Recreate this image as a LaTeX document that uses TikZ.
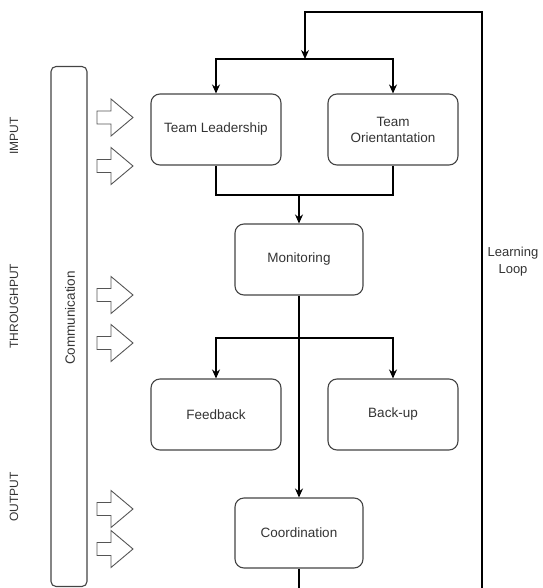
\documentclass[tikz,border=0pt]{standalone}
\usepackage{fontspec}
\setmainfont{Liberation Sans}
\usetikzlibrary{arrows.meta}
\definecolor{txt}{HTML}{333333}
\definecolor{bord}{HTML}{444444}
\definecolor{agrey}{HTML}{555555}
\tikzset{
  stepbox/.style={draw=bord, line width=1.1pt, rounded corners=9pt, minimum width=130pt, minimum height=71pt, inner sep=2pt, align=center, text=txt, font=\fontsize{13.5}{16}\selectfont},
  midbox/.style={stepbox, minimum width=128pt},
  conn/.style={line width=1.2pt, black},
  arr/.style={conn, -{Stealth[length=9pt,width=8pt]}},
  sidelbl/.style={rotate=90, text=txt, font=\fontsize{12}{14}\selectfont, inner sep=0pt},
  arrowshape/.style={draw=agrey, line width=0.9pt, line join=miter},
  blockarrow/.pic={\draw[arrowshape] (-18,-6.5) -- (-4,-6.5) -- (-4,-18.5) -- (18,0) -- (-4,18.5) -- (-4,6.5) -- (-18,6.5) -- cycle;}
}
\begin{document}
\begin{tikzpicture}[x=1pt,y=-1pt]
\useasboundingbox (0,0) rectangle (542,588);
% left bar and labels
\node[draw=bord, line width=1.1pt, rounded corners=5pt, minimum width=36pt, minimum height=520pt, inner sep=0pt] (bar) at (69,326.5) {};
\node[sidelbl, font=\fontsize{13.5}{16}\selectfont] (comm) at (70,318) {Communication};
\node[sidelbl] (lin) at (14,136) {IMPUT};
\node[sidelbl] (lthr) at (14,306) {THROUGHPUT};
\node[sidelbl] (lout) at (14,497) {OUTPUT};
% block arrows
\foreach \yy in {117.5,166,295,343,509,549} { \pic at (115,\yy) {blockarrow}; }
% main boxes
\node[stepbox] (TL) at (216,129.5) {Team Leadership};
\node[stepbox] (TO) at (393,129.5) {Team\\Orientantation};
\node[midbox] (MO) at (299,259.5) {Monitoring};
\node[stepbox] (FB) at (216,414.5) {Feedback};
\node[stepbox] (BU) at (393,414.5) {Back-up};
\node[midbox, minimum height=70pt] (CO) at (299,533) {Coordination};
\node[text=txt, align=center, font=\fontsize{13}{17}\selectfont] (LL) at (513,262) {Learning\\Loop};
% helper coordinates
\coordinate (lb) at (299,600);
\coordinate (rb) at (482,600);
\coordinate (rt) at (482,12);
\coordinate (lt) at (305,12);
\coordinate (s1) at (305,59);
\coordinate (m1) at (299,195);
\coordinate (s2) at (299,338);
% connectors
\draw[arr] (CO.south) -- (lb) -- (rb) -- (rt) -- (lt) -- (s1);
\draw[arr] (s1) -| (TL.north);
\draw[arr] (s1) -| (TO.north);
\draw[conn] (TL.south) |- (m1);
\draw[conn] (TO.south) |- (m1);
\draw[arr] (m1) -- (MO.north);
\draw[arr] (MO.south) -- (CO.north);
\draw[arr] (s2) -| (FB.north);
\draw[arr] (s2) -| (BU.north);
\end{tikzpicture}
\end{document}
